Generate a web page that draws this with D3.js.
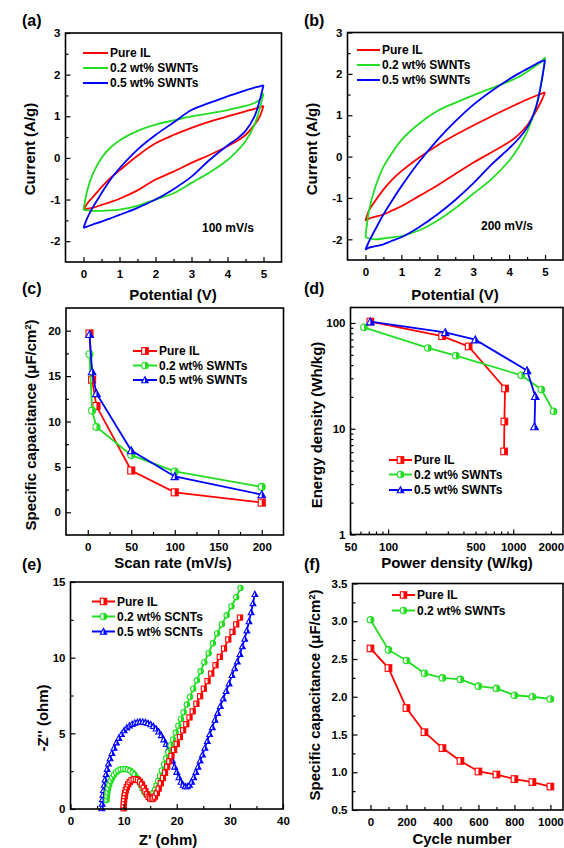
<!DOCTYPE html>
<html>
<head>
<meta charset="utf-8">
<script src="https://cdn.jsdelivr.net/npm/d3@7"></script>
<style>
body { margin: 0; background: #fff; }
text { font-family: "Liberation Sans", Arial, sans-serif; font-weight: bold; fill: #000; }
.axis text { font-size: 11.5px; }
.title { font-size: 15px; }
.tag { font-size: 16px; }
.leg { font-size: 12px; }
</style>
</head>
<body>
<svg id="fig" width="564" height="848"></svg>
<script>
// ---- data ----
var names = ["Pure IL", "0.2 wt% SWNTs", "0.5 wt% SWNTs"];
var eisNames = ["Pure IL", "0.2 wt% SCNTs", "0.5 wt% SCNTs"];
var colors = ["#ff0000", "#22dd22", "#0000ff"];

// CV loops, potential grid (V)
var cvGrid = [0, 0.1, 0.25, 0.5, 0.75, 1, 1.5, 2, 2.5, 3, 3.5, 4, 4.25, 4.5, 4.75, 4.9, 5];

// (a) 100 mV/s
var cv100PureUp   = [-1.25,-1.1,-0.95,-0.7,-0.48,-0.3,0.05,0.35,0.55,0.72,0.87,1.0,1.06,1.12,1.18,1.22,1.25];
var cv100PureDown = [-1.25,-1.22,-1.2,-1.13,-1.06,-0.98,-0.78,-0.52,-0.33,-0.12,0.07,0.28,0.4,0.55,0.8,1.0,1.25];
var cv100Sw02Up   = [-1.25,-0.8,-0.4,0.0,0.25,0.42,0.65,0.8,0.9,1.0,1.07,1.15,1.2,1.25,1.32,1.4,1.55];
var cv100Sw02Down = [-1.25,-1.26,-1.27,-1.27,-1.26,-1.24,-1.15,-1.0,-0.85,-0.6,-0.35,-0.05,0.15,0.4,0.8,1.2,1.55];
var cv100Sw05Up   = [-1.68,-1.45,-1.2,-0.85,-0.52,-0.25,0.2,0.55,0.85,1.15,1.32,1.48,1.55,1.62,1.69,1.72,1.75];
var cv100Sw05Down = [-1.68,-1.65,-1.6,-1.53,-1.45,-1.37,-1.2,-1.0,-0.75,-0.45,-0.05,0.3,0.45,0.65,1.0,1.4,1.75];

// (b) 200 mV/s
var cv200PureUp   = [-1.55,-1.3,-1.1,-0.8,-0.55,-0.35,-0.02,0.27,0.52,0.75,0.97,1.18,1.28,1.38,1.47,1.52,1.55];
var cv200PureDown = [-1.55,-1.5,-1.46,-1.4,-1.3,-1.2,-0.95,-0.7,-0.42,-0.15,0.1,0.35,0.52,0.75,1.1,1.35,1.55];
var cv200Sw02Up   = [-1.95,-1.3,-0.8,-0.25,0.1,0.4,0.8,1.1,1.3,1.48,1.65,1.82,1.92,2.05,2.2,2.3,2.4];
var cv200Sw02Down = [-1.95,-1.98,-2.0,-1.98,-1.95,-1.92,-1.78,-1.55,-1.25,-0.9,-0.55,-0.1,0.2,0.6,1.2,1.8,2.4];
var cv200Sw05Up   = [-2.25,-2.05,-1.8,-1.4,-1.05,-0.72,-0.12,0.4,0.85,1.25,1.58,1.87,2.0,2.12,2.24,2.3,2.33];
var cv200Sw05Down = [-2.25,-2.2,-2.17,-2.12,-2.03,-1.95,-1.7,-1.4,-1.05,-0.65,-0.2,0.2,0.42,0.7,1.2,1.8,2.33];

// (c) capacitance vs scan rate
var scanRates = [2, 5, 10, 50, 100, 200];
var capPure = [19.7, 14.6, 11.7, 4.6, 2.2, 1.07];
var capSw02 = [17.4, 11.2, 9.4, 6.3, 4.5, 2.8];
var capSw05 = [19.6, 15.5, 13.1, 6.8, 3.95, 1.95];

// (d) Ragone
var powPure = [72, 270, 440, 860, 850, 845];
var enPure  = [103, 75, 60, 24, 11.7, 6.1];
var powSw02 = [64, 208, 348, 1160, 1680, 2100];
var enSw02  = [91, 58, 49, 32, 23.5, 14.6];
var powSw05 = [72, 286, 497, 1290, 1500, 1480];
var enSw05  = [103, 81.5, 69.6, 35.5, 20.3, 10.5];

// (e) Nyquist
var eisPureRe = [10.0,10.02,10.05,10.1,10.18,10.28,10.42,10.6,10.85,11.15,11.5,11.9,12.3,12.7,13.1,13.45,13.8,14.1,14.4,14.7,15.0,15.3,15.6,15.9,16.25,16.6,17.0,17.4,17.8,18.2,18.6,19.0,19.5,20.0,20.6,21.2,21.8,22.4,23.0,23.7,24.4,25.1,25.8,26.5,27.3,28.1,28.9,29.7,30.5,31.2,31.9];
var eisPureIm = [0.05,0.25,0.45,0.65,0.85,1.05,1.25,1.45,1.63,1.78,1.9,1.96,1.97,1.92,1.8,1.62,1.4,1.18,0.97,0.8,0.7,0.66,0.7,0.82,1.05,1.35,1.7,2.05,2.4,2.8,3.15,3.5,3.9,4.3,4.75,5.2,5.6,6.05,6.45,6.95,7.45,7.95,8.45,8.95,9.5,10.05,10.6,11.2,11.7,12.2,12.65];
var eisSw02Re = [6.8,6.85,6.95,7.1,7.3,7.55,7.85,8.2,8.6,9.0,9.45,9.9,10.35,10.8,11.25,11.7,12.1,12.5,12.85,13.2,13.55,13.9,14.25,14.6,14.95,15.3,15.6,15.9,16.2,16.5,16.85,17.2,17.6,18.0,18.4,18.85,19.3,19.8,20.3,20.8,21.3,21.9,22.5,23.1,23.8,24.5,25.2,26.0,26.8,27.6,28.5,29.4,30.3,31.2,32.0];
var eisSw02Im = [0.6,0.85,1.1,1.35,1.6,1.85,2.07,2.27,2.43,2.55,2.62,2.65,2.64,2.6,2.52,2.4,2.25,2.05,1.85,1.6,1.35,1.12,0.95,0.85,0.83,0.9,1.05,1.28,1.55,1.85,2.2,2.55,2.95,3.35,3.75,4.2,4.6,5.05,5.5,5.95,6.4,6.9,7.4,7.95,8.5,9.1,9.7,10.3,10.95,11.6,12.2,12.8,13.4,14.0,14.6];
var eisSw05Re = [5.9,5.95,6.0,6.1,6.2,6.35,6.5,6.7,6.9,7.15,7.45,7.8,8.2,8.65,9.1,9.6,10.1,10.6,11.1,11.6,12.1,12.6,13.1,13.6,14.1,14.6,15.1,15.6,16.1,16.6,17.1,17.55,18.0,18.4,18.8,19.2,19.6,20.0,20.4,20.8,21.2,21.6,22.0,22.4,22.8,23.2,23.6,24.0,24.4,24.85,25.3,25.75,26.2,26.7,27.2,27.7,28.2,28.75,29.3,29.85,30.4,30.9,31.4,31.9,32.35,32.8,33.2,33.6,34.0,34.35,34.7];
var eisSw05Im = [0.05,0.35,0.65,0.95,1.25,1.6,1.95,2.3,2.65,3.0,3.35,3.7,4.05,4.4,4.7,4.95,5.2,5.38,5.52,5.62,5.7,5.75,5.77,5.77,5.74,5.68,5.6,5.48,5.32,5.12,4.88,4.6,4.3,3.95,3.6,3.2,2.8,2.45,2.1,1.8,1.6,1.5,1.5,1.6,1.8,2.1,2.45,2.8,3.2,3.6,4.05,4.5,4.95,5.4,5.9,6.35,6.8,7.3,7.8,8.3,8.85,9.3,9.75,10.25,10.75,11.25,11.8,12.4,13.0,13.6,14.2];

// (f) cycling
var cycles = [0, 100, 200, 300, 400, 500, 600, 700, 800, 900, 1000];
var cycPure = [2.64, 2.38, 1.85, 1.53, 1.32, 1.15, 1.01, 0.97, 0.91, 0.87, 0.81];
var cycSw02 = [3.02, 2.62, 2.48, 2.31, 2.25, 2.23, 2.14, 2.11, 2.02, 2.0, 1.97];

// tick values
var cvXTicks = [0, 1, 2, 3, 4, 5], cvXMinor = [0.5, 1.5, 2.5, 3.5, 4.5];
var cvYTicks = [-2, -1, 0, 1, 2, 3], cvYMinor = [-1.5, -0.5, 0.5, 1.5, 2.5];
var scanXTicks = [0, 50, 100, 150, 200], scanXMinor = [25, 75, 125, 175];
var capYTicks = [0, 5, 10, 15, 20], capYMinor = [2.5, 7.5, 12.5, 17.5];
var powMajor = [100, 1000], powMinor = [50, 60, 70, 80, 90, 200, 300, 400, 500, 600, 700, 800, 900, 2000];
var powLabeled = [50, 500, 2000];
var enMajor = [1, 10, 100], enMinor = [2, 3, 4, 5, 6, 7, 8, 9, 20, 30, 40, 50, 60, 70, 80, 90];
var zXTicks = [0, 10, 20, 30, 40], zXMinor = [5, 15, 25, 35];
var zYTicks = [0, 5, 10, 15], zYMinor = [2.5, 7.5, 12.5];
var cycXTicks = [0, 200, 400, 600, 800, 1000], cycXMinor = [100, 300, 500, 700, 900];
var cycYTicks = [0.5, 1.0, 1.5, 2.0, 2.5, 3.0, 3.5], cycYMinor = [0.75, 1.25, 1.75, 2.25, 2.75, 3.25];

var svg = d3.select("#fig");

function num(d) { return String(d); }

function drawAxes(p) {
  var fx = p.xFmt || num, fy = p.yFmt || num;
  svg.append("g").attr("class", "axis").attr("transform", "translate(0," + p.bottom + ")")
    .call(d3.axisBottom(p.x).tickValues(p.xTicks).tickSize(-5).tickPadding(8).tickFormat(fx));
  svg.append("g").attr("class", "axis").attr("transform", "translate(0," + p.bottom + ")")
    .call(d3.axisBottom(p.x).tickValues(p.xMinor).tickSize(-3).tickPadding(8).tickFormat(p.xMinorFmt || function() { return ""; }));
  svg.append("g").attr("class", "axis").attr("transform", "translate(" + p.left + ",0)")
    .call(d3.axisLeft(p.y).tickValues(p.yTicks).tickSize(-5).tickPadding(5).tickFormat(fy));
  svg.append("g").attr("class", "axis").attr("transform", "translate(" + p.left + ",0)")
    .call(d3.axisLeft(p.y).tickValues(p.yMinor).tickSize(-3).tickPadding(5).tickFormat(function() { return ""; }));
  svg.append("rect")
    .attr("x", p.left).attr("y", p.top)
    .attr("width", p.right - p.left).attr("height", p.bottom - p.top)
    .attr("fill", "none").attr("stroke", "#000").attr("stroke-width", 1.6);
}

function marker(g, shape, cx, cy, r, color) {
  if (shape === "square") {
    g.append("rect").attr("x", cx - r).attr("y", cy - r).attr("width", 2 * r).attr("height", 2 * r)
      .attr("fill", "#fff").attr("stroke", color).attr("stroke-width", 1.1);
    g.append("rect").attr("x", cx).attr("y", cy - r).attr("width", r).attr("height", 2 * r).attr("fill", color);
  } else if (shape === "circle") {
    g.append("circle").attr("cx", cx).attr("cy", cy).attr("r", r)
      .attr("fill", "#fff").attr("stroke", color).attr("stroke-width", 1.1);
    g.append("path").attr("d", "M" + cx + "," + (cy - r) + "A" + r + "," + r + " 0 0 1 " + cx + "," + (cy + r) + "Z")
      .attr("fill", color);
  } else {
    var h = r * 0.85;
    g.append("path").attr("d", "M" + cx + "," + (cy - r) + "L" + (cx + r) + "," + (cy + h) + "L" + (cx - r) + "," + (cy + h) + "Z")
      .attr("fill", "#fff").attr("stroke", color).attr("stroke-width", 1.1);
    g.append("path").attr("d", "M" + cx + "," + (cy - r) + "L" + (cx + r) + "," + (cy + h) + "L" + cx + "," + (cy + h) + "Z")
      .attr("fill", color);
  }
}

var shapes = ["square", "circle", "triangle"];

function series(p, xs, ys, k, r, curve) {
  var pts = xs.map(function(d, i) { return [d, ys[i]]; });
  var line = d3.line().x(function(d) { return p.x(d[0]); }).y(function(d) { return p.y(d[1]); });
  if (curve) line.curve(curve);
  svg.append("path").datum(pts).attr("d", line)
    .attr("fill", "none").attr("stroke", colors[k]).attr("stroke-width", 1.8);
  if (r) {
    var g = svg.append("g");
    pts.forEach(function(d) { marker(g, shapes[k], p.x(d[0]), p.y(d[1]), r, colors[k]); });
  }
}

function legend(x1, x2, ys, labels, r) {
  var g = svg.append("g");
  labels.forEach(function(lab, k) {
    g.append("line").attr("x1", x1).attr("x2", x2).attr("y1", ys[k]).attr("y2", ys[k])
      .attr("stroke", colors[k]).attr("stroke-width", 2);
    if (r) marker(g, shapes[k], (x1 + x2) / 2, ys[k], r, colors[k]);
    g.append("text").attr("class", "leg").attr("x", x2 + 2).attr("y", ys[k] + 4).text(lab);
  });
}

function vTitle(x, y, txt, sup) {
  var t = svg.append("text").attr("class", "title").attr("text-anchor", "middle")
    .attr("transform", "translate(" + x + "," + y + ") rotate(-90)");
  if (sup) {
    t.append("tspan").text("Specific capacitance (\u03bcF/cm");
    t.append("tspan").attr("baseline-shift", "super").attr("font-size", "9px").text("2");
    t.append("tspan").text(")");
  } else {
    t.text(txt);
  }
}
function hTitle(x, y, txt) {
  svg.append("text").attr("class", "title").attr("text-anchor", "middle").attr("x", x).attr("y", y).text(txt);
}
function tag(x, y, txt) {
  svg.append("text").attr("class", "tag").attr("x", x).attr("y", y).text(txt);
}

// ---- (a) ----
var pa = { left: 65.5, right: 281.5, top: 33, bottom: 262 };
pa.x = d3.scaleLinear().domain([-0.5, 5.5]).range([pa.left, pa.right]);
pa.y = d3.scaleLinear().domain([-2.5, 3]).range([pa.bottom, pa.top]);
pa.xTicks = cvXTicks; pa.xMinor = cvXMinor; pa.yTicks = cvYTicks; pa.yMinor = cvYMinor;
[[cv100PureUp, cv100PureDown], [cv100Sw02Up, cv100Sw02Down], [cv100Sw05Up, cv100Sw05Down]].forEach(function(b, k) {
  series(pa, cvGrid, b[0], k, 0, d3.curveCatmullRom);
  series(pa, cvGrid, b[1], k, 0, d3.curveCatmullRom);
});
drawAxes(pa);
legend(83, 108, [53, 68, 83], names, 0);
svg.append("text").attr("class", "leg").attr("x", 202).attr("y", 232).text("100 mV/s");
tag(22, 26, "(a)");
vTitle(35, 149, "Current (A/g)");
hTitle(173, 300, "Potential (V)");

// ---- (b) ----
var pb = { left: 347.5, right: 563, top: 32.5, bottom: 260 };
pb.x = d3.scaleLinear().domain([-0.5, 5.5]).range([pb.left, pb.right]);
pb.y = d3.scaleLinear().domain([-2.5, 3]).range([pb.bottom, pb.top]);
pb.xTicks = cvXTicks; pb.xMinor = cvXMinor; pb.yTicks = cvYTicks; pb.yMinor = cvYMinor;
[[cv200PureUp, cv200PureDown], [cv200Sw02Up, cv200Sw02Down], [cv200Sw05Up, cv200Sw05Down]].forEach(function(b, k) {
  series(pb, cvGrid, b[0], k, 0, d3.curveCatmullRom);
  series(pb, cvGrid, b[1], k, 0, d3.curveCatmullRom);
});
drawAxes(pb);
legend(357, 380, [50, 65, 80], names, 0);
svg.append("text").attr("class", "leg").attr("x", 481).attr("y", 230).text("200 mV/s");
tag(304, 26, "(b)");
vTitle(317, 149, "Current (A/g)");
hTitle(455, 300, "Potential (V)");

// ---- (c) ----
var pc = { left: 66, right: 283.5, top: 308, bottom: 535 };
pc.x = d3.scaleLinear().domain([-25, 225]).range([pc.left, pc.right]);
pc.y = d3.scaleLinear().domain([-2.5, 22.5]).range([pc.bottom, pc.top]);
pc.xTicks = scanXTicks; pc.xMinor = scanXMinor; pc.yTicks = capYTicks; pc.yMinor = capYMinor;
series(pc, scanRates, capPure, 0, 3.5);
series(pc, scanRates, capSw02, 1, 3.5);
series(pc, scanRates, capSw05, 2, 3.8);
drawAxes(pc);
legend(133, 157, [351, 365.5, 380], names, 3.3);
tag(22, 294, "(c)");
vTitle(36, 425, "", true);
hTitle(173, 568, "Scan rate (mV/s)");

// ---- (d) ----
var pd = { left: 350.5, right: 563, top: 307.5, bottom: 534.5 };
pd.x = d3.scaleLog().domain([50, 2500]).range([pd.left, pd.right]);
pd.y = d3.scaleLog().domain([1, 140]).range([pd.bottom, pd.top]);
pd.xTicks = powMajor; pd.xMinor = powMinor; pd.yTicks = enMajor; pd.yMinor = enMinor;
pd.xMinorFmt = function(d) { return powLabeled.indexOf(d) >= 0 ? String(d) : ""; };
series(pd, powPure, enPure, 0, 3.3);
series(pd, powSw02, enSw02, 1, 3.3);
series(pd, powSw05, enSw05, 2, 3.8);
drawAxes(pd);
legend(389, 412, [460, 474.5, 490], names, 3.3);
tag(304, 294, "(d)");
vTitle(322, 425, "Energy density (Wh/kg)");
hTitle(457, 568, "Power density (W/kg)");

// ---- (e) ----
var pe = { left: 70.5, right: 283, top: 582, bottom: 809 };
pe.x = d3.scaleLinear().domain([0, 40]).range([pe.left, pe.right]);
pe.y = d3.scaleLinear().domain([0, 15]).range([pe.bottom, pe.top]);
pe.xTicks = zXTicks; pe.xMinor = zXMinor; pe.yTicks = zYTicks; pe.yMinor = zYMinor;
series(pe, eisSw05Re, eisSw05Im, 2, 2.9);
series(pe, eisSw02Re, eisSw02Im, 1, 2.7);
series(pe, eisPureRe, eisPureIm, 0, 2.6);
drawAxes(pe);
legend(92, 115, [601.5, 616.5, 631.5], eisNames, 3.2);
tag(22, 570, "(e)");
vTitle(48, 718, "-Z'' (ohm)");
hTitle(168, 845, "Z' (ohm)");

// ---- (f) ----
var pf = { left: 352.5, right: 563, top: 583.5, bottom: 810 };
pf.x = d3.scaleLinear().domain([-100, 1070]).range([pf.left, pf.right]);
pf.y = d3.scaleLinear().domain([0.5, 3.5]).range([pf.bottom, pf.top]);
pf.xTicks = cycXTicks; pf.xMinor = cycXMinor; pf.yTicks = cycYTicks; pf.yMinor = cycYMinor;
pf.yFmt = d3.format(".1f");
series(pf, cycles, cycPure, 0, 3.3);
series(pf, cycles, cycSw02, 1, 3.3);
drawAxes(pf);
legend(392, 415, [595, 610.5], names.slice(0, 2), 3.2);
tag(304, 570, "(f)");
vTitle(320, 695, "", true);
hTitle(462, 844, "Cycle number");

svg.selectAll(".domain").remove();
svg.selectAll(".axis line").attr("stroke-width", 1.2);
</script>
</body>
</html>
